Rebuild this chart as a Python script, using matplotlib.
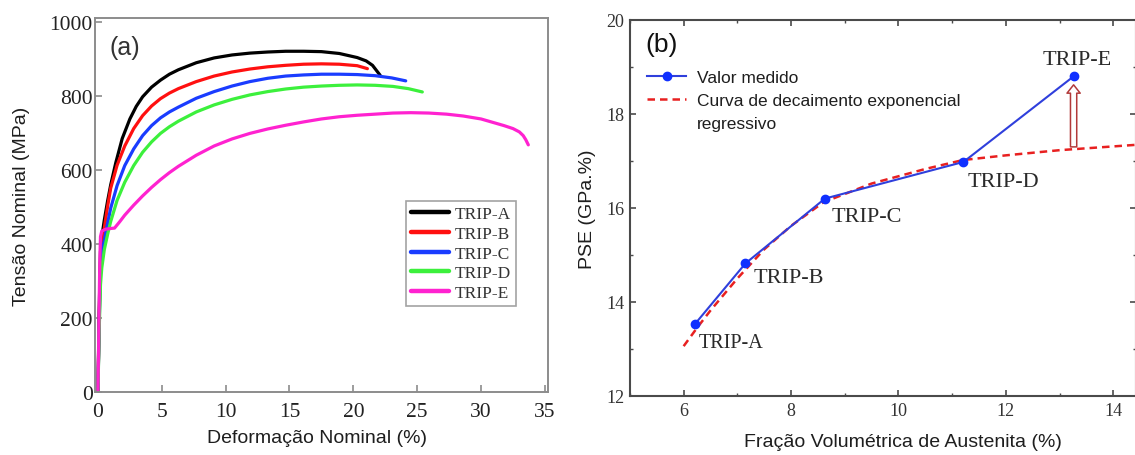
import matplotlib
matplotlib.use("Agg")
import matplotlib.pyplot as plt
from matplotlib.lines import Line2D
from matplotlib.ticker import MultipleLocator

# ---------------------------------------------------------------- data
# (a) engineering stress-strain curves, strain in %, stress in MPa
strain_a = [0, 0.1, 0.2, 0.35, 0.5, 0.75, 1.0, 1.4, 1.9, 2.5, 3.0, 3.5, 4.2,
            4.9, 5.6, 6.3, 7.7, 9.1, 10.5, 11.9, 13.3, 14.7, 16.1, 17.5,
            18.9, 20.3, 21.0, 21.5, 22.1]
stress_a = [0, 220, 380, 430, 465, 515, 560, 620, 685, 738, 772, 798, 824,
            843, 859, 871, 890, 903, 911, 916, 919, 921, 921, 920, 915, 904,
            895, 883, 856]

strain_b = [0, 0.1, 0.2, 0.35, 0.5, 0.75, 1.0, 1.5, 2.1, 2.8, 3.5, 4.2, 4.9,
            5.6, 6.3, 7.7, 9.1, 10.5, 11.9, 13.3, 14.7, 16.1, 17.5, 18.9,
            20.3, 21.1]
stress_b = [0, 200, 350, 410, 443, 500, 551, 613, 665, 712, 747, 773, 793,
            808, 820, 839, 854, 865, 873, 879, 883, 886, 887, 886, 882, 874]

strain_c = [0, 0.1, 0.2, 0.35, 0.5, 0.75, 1.0, 1.5, 2.1, 2.8, 3.5, 4.2, 4.9,
            5.6, 6.3, 7.7, 9.1, 10.5, 11.9, 13.3, 14.7, 16.1, 17.5, 18.9,
            20.3, 21.7, 23.0, 24.1]
stress_c = [0, 190, 330, 385, 410, 455, 497, 558, 612, 657, 693, 720, 741,
            757, 770, 794, 812, 827, 839, 848, 854, 857, 859, 859, 858, 855,
            849, 841]

strain_d = [0, 0.1, 0.2, 0.3, 0.5, 0.75, 1.0, 1.5, 2.1, 2.8, 3.5, 4.2, 4.9,
            5.6, 6.3, 7.7, 9.1, 10.5, 11.9, 13.3, 14.7, 16.1, 17.5, 18.9,
            20.3, 21.7, 23.1, 24.3, 25.4]
stress_d = [0, 170, 290, 335, 385, 425, 461, 518, 567, 612, 648, 676, 699,
            717, 732, 757, 776, 791, 803, 812, 819, 824, 827, 829, 830, 829,
            826, 820, 811]

strain_e = [0, 0.05, 0.1, 0.15, 0.2, 0.3, 0.6, 1.0, 1.3, 1.7, 2.1, 2.8, 3.5,
            4.2, 4.9, 5.6, 6.3, 7.7, 9.1, 10.5, 11.9, 13.3, 14.7, 16.1, 17.5,
            18.9, 20.3, 21.7, 23.1, 24.5, 25.9, 27.3, 28.6, 30.0, 30.9, 31.8,
            32.5, 33.0, 33.3, 33.5, 33.7]
stress_e = [0, 120, 250, 360, 420, 435, 440, 442, 443, 460, 478, 505, 530,
            553, 574, 593, 610, 640, 665, 684, 699, 711, 721, 730, 738, 744,
            748, 751, 754, 755, 754, 751, 746, 738, 729, 720, 712, 703, 693,
            682, 668]

steels = ["TRIP-A", "TRIP-B", "TRIP-C", "TRIP-D", "TRIP-E"]
curve_colors = ["#000000", "#ff1010", "#1a3cff", "#3cf03c", "#ff22d0"]

# (b) product of strength and elongation vs retained austenite fraction
austenite = [6.21, 7.15, 8.63, 11.21, 13.26]
pse = [13.53, 14.82, 16.20, 16.98, 18.80]

fit_x = [6.0, 6.25, 6.5, 7.0, 7.5, 8.0, 8.6, 9.5, 10.5, 11.2, 12.0, 13.0,
         14.0, 14.5]
fit_y = [13.06, 13.45, 13.82, 14.50, 15.12, 15.62, 16.12, 16.52, 16.83,
         17.02, 17.12, 17.23, 17.31, 17.35]

# label offsets (points) from each measured point, and their font sizes
label_offsets = [(3, -13), (6, -10), (5, -13), (3, -14), (-22, 12)]
label_sizes = [14.5, 16, 16, 16, 16]

SERIF = "Liberation Serif"
SANS = "Liberation Sans"

fig = plt.figure(figsize=(11.35, 4.56), dpi=100)

# ---------------------------------------------------------------- (a)
ax1 = fig.add_axes([0.0837, 0.1382, 0.3991, 0.8202])
curves = [(strain_a, stress_a), (strain_b, stress_b), (strain_c, stress_c),
          (strain_d, stress_d), (strain_e, stress_e)]
for (x, y), name, col in zip(curves, steels, curve_colors):
    ax1.plot(x, y, color=col, lw=2.3, label=name, solid_capstyle="round",
             solid_joinstyle="round")

ax1.set_xlim(-0.23, 35.24)
ax1.set_ylim(0, 1011)
ax1.xaxis.set_major_locator(MultipleLocator(5))
ax1.yaxis.set_major_locator(MultipleLocator(200))
for s in ax1.spines.values():
    s.set_color("#8c8c8c")
    s.set_linewidth(1.4)
ax1.tick_params(axis="both", direction="in", length=5, width=1.2,
                color="#8c8c8c", labelcolor="#222222", labelsize=15.5)
ax1.tick_params(axis="x", pad=7)
ax1.tick_params(axis="y", pad=1.5)
for lab in ax1.get_xticklabels() + ax1.get_yticklabels():
    lab.set_family(SERIF)

ax1.set_xlabel("Deformação Nominal (%)", family=SANS, fontsize=14,
               color="#1e1e1e")
ax1.set_ylabel("Tensão Nominal (MPa)", family=SANS, fontsize=14,
               color="#1e1e1e")
ax1.xaxis.set_label_coords(0.49, -0.10)
ax1.yaxis.set_label_coords(-0.143, 0.5)
ax1.text(0.033, 0.922, "(a)", transform=ax1.transAxes, family=SANS,
         fontsize=18, color="#333333", va="center", ha="left")

leg1 = ax1.legend(loc="upper left", bbox_to_anchor=(0.6865, 0.5107),
                  borderaxespad=0, frameon=True, fancybox=False,
                  prop={"family": SERIF, "size": 12.5}, handlelength=2.2,
                  handletextpad=0.3, labelspacing=0.2, borderpad=0.3)
leg1.get_frame().set_edgecolor("#8c8c8c")
leg1.get_frame().set_linewidth(1.2)
for h in leg1.get_lines():
    h.set_linewidth(3.2)
for t in leg1.get_texts():
    t.set_color("#333333")

# ---------------------------------------------------------------- (b)
ax2 = fig.add_axes([0.555, 0.1294, 0.4458, 0.8246])
ax2.plot(fit_x, fit_y, color="#e82020", lw=1.8, linestyle=(0, (3, 2)),
         zorder=2)
ax2.plot(austenite, pse, color="#2f3fdc", lw=1.5, marker="o",
         markersize=6, markerfacecolor="#1030ff", markeredgecolor="#1030ff",
         zorder=3)

for name, xv, yv, off, fs in zip(steels, austenite, pse, label_offsets,
                                 label_sizes):
    ax2.annotate(name, xy=(xv, yv), xytext=off, textcoords="offset points",
                 ha="left", va="center", family=SERIF, fontsize=fs,
                 color="#2a2a2a")

# gap between the measured value for TRIP-E and the fitted trend
ax2.annotate("", xy=(austenite[-1], 18.62), xytext=(austenite[-1], 17.3),
             arrowprops=dict(arrowstyle="simple,head_width=0.95,"
                             "head_length=0.6,tail_width=0.45",
                             fc="white", ec="#b23a3a", lw=1.1,
                             shrinkA=0, shrinkB=0))

ax2.set_xlim(5.0, 14.42)
ax2.set_ylim(12, 20)
ax2.xaxis.set_major_locator(MultipleLocator(2))
ax2.xaxis.set_minor_locator(MultipleLocator(1))
ax2.yaxis.set_major_locator(MultipleLocator(2))
ax2.yaxis.set_minor_locator(MultipleLocator(1))
for s in ax2.spines.values():
    s.set_color("#4a4a4a")
    s.set_linewidth(1.5)
ax2.tick_params(which="both", direction="in", top=True, right=True,
                color="#4a4a4a", labelcolor="#333333", labelsize=13)
ax2.tick_params(which="major", length=4, width=1.2, pad=4)
ax2.tick_params(which="minor", length=2.5, width=1.0)
for lab in ax2.get_xticklabels() + ax2.get_yticklabels():
    lab.set_family(SERIF)

ax2.set_xlabel("Fração Volumétrica de Austenita (%)", family=SANS,
               fontsize=14, color="#1e1e1e")
ax2.set_ylabel("PSE (GPa.%)", family=SANS, fontsize=14, color="#1e1e1e")
ax2.xaxis.set_label_coords(0.54, -0.098)
ax2.yaxis.set_label_coords(-0.067, 0.5)
ax2.text(0.03, 0.936, "(b)", transform=ax2.transAxes, family=SANS,
         fontsize=19, color="#111111", va="center", ha="left")

handles = [
    Line2D([], [], color="#2f3fdc", lw=1.5, marker="o", markersize=6,
           markerfacecolor="#1030ff", markeredgecolor="#1030ff"),
    Line2D([], [], color="#e82020", lw=1.8, linestyle=(0, (3, 2))),
    Line2D([], [], linestyle="none"),
]
leg2 = ax2.legend(handles, ["Valor medido",
                            "Curva de decaimento exponencial",
                            "regressivo"],
                  loc="upper left", bbox_to_anchor=(0.034, 0.867),
                  borderaxespad=0, frameon=False, borderpad=0,
                  prop={"family": SANS, "size": 12.5}, handlelength=2.25,
                  handletextpad=0.63, labelspacing=0.46)
for t in leg2.get_texts():
    t.set_color("#1e1e1e")

fig.savefig("out.png", dpi=100)
